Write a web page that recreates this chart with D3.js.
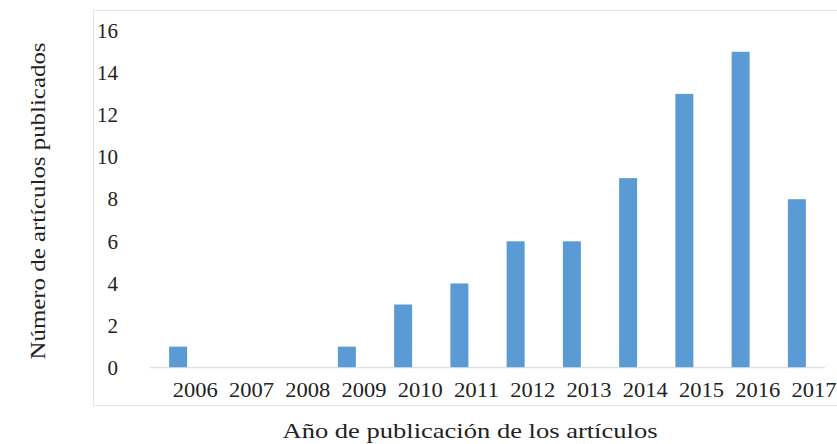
<!DOCTYPE html>
<meta charset="utf-8">
<style>

body { margin: 0; background: #fff; }

svg text {
  font-family: "Liberation Serif", "DejaVu Serif", serif !important;
  fill: #222;
}

</style>
<svg width="837" height="444"></svg>
<script src="https://d3js.org/d3.v7.min.js"></script>
<script>

var years = ["2006", "2007", "2008", "2009", "2010", "2011", "2012", "2013", "2014", "2015", "2016", "2017"];
var counts = [1, 0, 0, 1, 3, 4, 6, 6, 9, 13, 15, 8];
var yTicks = [0, 2, 4, 6, 8, 10, 12, 14, 16];

var svg = d3.select("svg");

var data = years.map(function(d, i) { return {year: d, value: counts[i]}; });

var x = d3.scaleBand()
    .domain(years)
    .range([150, 825])
    .paddingInner(0.68)
    .paddingOuter(0.34);

var y = d3.scaleLinear()
    .domain([0, 16])
    .range([367.7, 30.7]);

// light frame round the plot
svg.append("rect")
    .attr("x", 93.5)
    .attr("y", 10.5)
    .attr("width", 760)
    .attr("height", 395)
    .attr("fill", "none")
    .attr("stroke", "#e4e4e4");

svg.selectAll(".bar")
  .data(data)
  .enter().append("rect")
    .attr("class", "bar")
    .attr("x", function(d) { return x(d.year); })
    .attr("y", function(d) { return y(d.value); })
    .attr("width", x.bandwidth())
    .attr("height", function(d) { return y(0) - y(d.value); })
    .attr("fill", "#5b9bd5");

var xAxis = svg.append("g")
    .attr("transform", "translate(0," + y(0) + ")")
    .attr("font-family", null)
    .call(d3.axisBottom(x).tickSize(0).tickPadding(15));

xAxis.select(".domain")
    .attr("stroke", "#d9d9d9")
    .attr("d", "M150,0H825");

xAxis.selectAll("text")
    .attr("dx", 17)
    .style("font-size", "20px")
    .attr("textLength", 45)
    .attr("lengthAdjust", "spacingAndGlyphs")
    .attr("fill", "#222");

var yAxis = svg.append("g")
    .attr("transform", "translate(118,0)")
    .call(d3.axisLeft(y).tickValues(yTicks).tickSize(0).tickPadding(0));

yAxis.select(".domain").remove();

yAxis.selectAll("text")
    .style("font-size", "21px")
    .attr("fill", "#222");

svg.append("text")
    .attr("x", 470)
    .attr("y", 437.7)
    .attr("text-anchor", "middle")
    .attr("textLength", 375)
    .attr("lengthAdjust", "spacingAndGlyphs")
    .style("font-size", "22px")
    .text("Año de publicación de los artículos");

svg.append("text")
    .attr("transform", "translate(45,201) rotate(-90)")
    .attr("text-anchor", "middle")
    .attr("textLength", 317)
    .attr("lengthAdjust", "spacingAndGlyphs")
    .style("font-size", "21px")
    .text("Número de artículos publicados");

</script>
